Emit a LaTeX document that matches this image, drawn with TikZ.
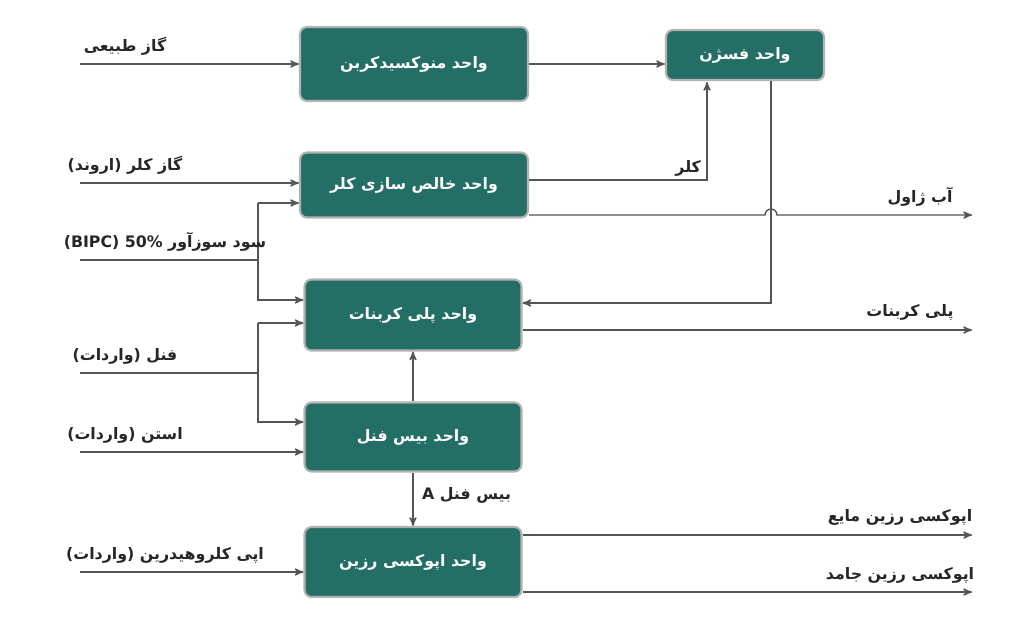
\documentclass[tikz,border=0pt]{standalone}
\usepackage{fontspec}
\newfontfamily\fafont[Script=Arabic]{DejaVu Sans}
\TeXXeTstate=1
\usetikzlibrary{arrows,positioning}
\definecolor{unitgreen}{HTML}{236F66}
\definecolor{flowgray}{HTML}{555555}
\tikzset{
    unit/.style={draw=gray!60, line width=1.2pt, fill=unitgreen, rounded corners=4pt,
        text=white, font=\fafont\bfseries\small, inner sep=0pt},
    flow/.style={draw=flowgray, line width=0.8pt, ->, >=stealth'},
    flowline/.style={draw=flowgray, line width=0.8pt},
    tag/.style={font=\fafont\bfseries\small, text=black!85, inner sep=1pt},
}
\newcommand{\fa}[1]{\beginR #1\endR}
\begin{document}
\begin{tikzpicture}[x=0.02cm, y=-0.02cm]
\useasboundingbox (0,0) rectangle (1024,643);
% units
\node[unit, minimum width=4.56cm, minimum height=1.48cm] (mono) at (414,64) {\fa{واحد منوکسیدکربن}};
\node[unit, minimum width=3.16cm, minimum height=1.0cm] (fosgen) at (745,55) {\fa{واحد فسژن}};
\node[unit, minimum width=4.56cm, minimum height=1.3cm] (chlor) at (414,185) {\fa{واحد خالص سازی کلر}};
\node[unit, minimum width=4.34cm, minimum height=1.42cm] (pc) at (413,315) {\fa{واحد پلی کربنات}};
\node[unit, minimum width=4.34cm, minimum height=1.38cm] (bpa) at (413,437) {\fa{واحد بیس فنل}};
\node[unit, minimum width=4.34cm, minimum height=1.4cm] (epoxy) at (413,562) {\fa{واحد اپوکسی رزین}};
% free ends
\coordinate (gasin) at (80,64);
\coordinate (clin) at (80,183);
\coordinate (sodain) at (80,260);
\coordinate (phenin) at (80,373);
\coordinate (acein) at (80,452);
\coordinate (epiin) at (80,572);
\coordinate (javel) at (972,215);
\coordinate (pcout) at (972,330);
\coordinate (liqout) at (972,535);
\coordinate (solout) at (972,592);
% inputs
\draw[flow] (gasin) -- (gasin -| mono.west);
\node[tag, anchor=south] at (125,57) {\fa{گاز طبیعی}};
\draw[flow] (clin) -- (clin -| chlor.west);
\node[tag, anchor=south] at (125,176) {\fa{گاز کلر (اروند)}};
\draw[flowline] (sodain) -- (258,260);
\draw[flow] (258,203) -- (258,300) -- (pc.west |- 0,300);
\draw[flow] (258,203) -- (chlor.west |- 0,203);
\node[tag, anchor=south] at (165,253) {\fa{سود سوزآور \beginL 50\%\endL{} \beginL(BIPC)\endL}};
\draw[flowline] (phenin) -- (258,373);
\draw[flow] (258,323) -- (258,422) -- (bpa.west |- 0,422);
\draw[flow] (258,323) -- (pc.west |- 0,323);
\node[tag, anchor=south] at (125,366) {\fa{فنل (واردات)}};
\draw[flow] (acein) -- (acein -| bpa.west);
\node[tag, anchor=south] at (125,445) {\fa{استن (واردات)}};
\draw[flow] (epiin) -- (epiin -| epoxy.west);
\node[tag, anchor=south] at (165,565) {\fa{اپی کلروهیدرین (واردات)}};
% links between units
\draw[flow] (mono.east |- 0,64) -- (fosgen.west |- 0,64);
\draw[flow] (chlor.east |- 0,180) -- (707,180) -- (707,82);
\node[tag, anchor=south east] at (703,178) {\fa{کلر}};
\draw[flow] (fosgen.south -| 771,0) -- (771,303) -- (pc.east |- 0,303);
\draw[flow] (chlor.east |- javel) -- (765,215) arc[start angle=180, end angle=0, radius=3.4pt] -- (javel);
\node[tag, anchor=south] at (920,208) {\fa{آب ژاول}};
\draw[flow] (bpa.north) -- (pc.south);
\draw[flow] (bpa.south) -- (epoxy.north);
\node[tag, anchor=west] at (420,495) {\fa{بیس فنل \beginL A\endL}};
% outputs
\draw[flow] (pc.east |- pcout) -- (pcout);
\node[tag, anchor=south] at (910,322) {\fa{پلی کربنات}};
\draw[flow] (epoxy.east |- liqout) -- (liqout);
\node[tag, anchor=south] at (900,527) {\fa{اپوکسی رزین مایع}};
\draw[flow] (epoxy.east |- solout) -- (solout);
\node[tag, anchor=south] at (900,585) {\fa{اپوکسی رزین جامد}};
\end{tikzpicture}
\end{document}
